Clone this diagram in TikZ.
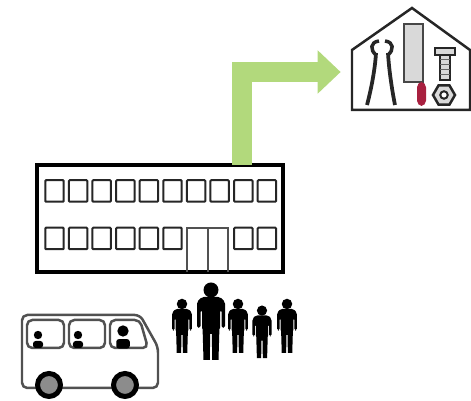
\documentclass[tikz,border=0pt]{standalone}
\usetikzlibrary{arrows.meta,positioning,calc,shapes.geometric}
\definecolor{arrowgreen}{HTML}{B2D97C}
\definecolor{handlered}{HTML}{A8203F}
\definecolor{bladegray}{HTML}{D9D9D9}
\definecolor{wheelgray}{HTML}{8C8C8C}
\definecolor{inkdark}{HTML}{262626}

\begin{document}
\begin{tikzpicture}[
    x=0.02cm, y=-0.02cm,
    building/.style={
        rectangle, draw=black, line width=0.08cm, fill=white, inner sep=0pt,
        minimum width=4.92cm, minimum height=2.14cm
    },
    % Windows of the building
    window/.style={
        rectangle, rounded corners=0.5pt, draw=inkdark, line width=0.04cm, fill=white,
        inner sep=0pt, minimum width=0.37cm, minimum height=0.43cm
    },
    doorline/.style={draw=inkdark!80, line width=0.04cm},
    flowarrow/.style={
        -{Triangle[length=0.46cm,width=0.84cm]}, line width=0.4cm, arrowgreen,
        shorten >=0.2cm
    },
    houseline/.style={draw=inkdark, line width=0.05cm, line join=miter},
    busline/.style={draw=inkdark!80, line width=0.05cm, rounded corners=3pt},
    wheel/.style={
        circle, draw=black, line width=0.1cm, fill=wheelgray,
        inner sep=0pt, minimum size=0.46cm
    },
    passenger/.pic={
        \fill[black] (0,0) circle (4.2);
        \fill[black, rounded corners=1.5pt] (-5,13) -- (-5,6) -- (5,6) -- (5,13) -- cycle;
    },
    walker/.pic={
        % head
        \fill[black] (0,-30) circle (7.5);
        % torso with arms
        \fill[black, rounded corners=1pt] (-14,8) -- (-14,-18) -- (-9,-23) -- (9,-23)
            -- (14,-18) -- (14,8) -- (10.5,8) -- (10.5,-10) -- (9,-10) -- (9,10)
            -- (-9,10) -- (-9,-10) -- (-10.5,-10) -- (-10.5,8) -- cycle;
        % legs
        \fill[black] (-8.5,6) -- (8.5,6) -- (7.5,40) -- (1.2,40) -- (0.8,14) -- (-0.8,14)
            -- (-1.2,40) -- (-7.5,40) -- cycle;
    }
]
\useasboundingbox (0,0) rectangle (471,401);

% === House with the tools ===
\node[inner sep=0pt, minimum size=0pt] (house) at (351,72) {};
\draw[houseline] (352,50) -- (412,8) -- (470,50) -- (470,110) -- (352,110) -- cycle;

% pliers
\draw[inkdark, line width=0.07cm] (379,41) .. controls (370,42) and (370,50) .. (376,55);
\draw[inkdark, line width=0.07cm] (385,41) .. controls (394,42) and (394,50) .. (388,55);
\draw[inkdark, line width=0.075cm] (376,53) .. controls (375,70) and (371,90) .. (367,105);
\draw[inkdark, line width=0.075cm] (388,53) .. controls (389,70) and (392,90) .. (395,105);

% cleaver
\draw[fill=bladegray, draw=inkdark!85, line width=0.05cm] (404,24) rectangle (423,82);
\fill[handlered, rounded corners=3pt] (417,82) rectangle (426,106);

% bolt
\draw[fill=bladegray, draw=inkdark, line width=0.04cm] (435,48) rectangle (455,55);
\draw[fill=bladegray, draw=inkdark, line width=0.04cm] (440,55) rectangle (450,80);
\foreach \yy in {60,65,70,75}
    \draw[inkdark!70, line width=0.02cm] (440,\yy) -- (450,\yy);

% nut
\node[regular polygon, regular polygon sides=6, draw=inkdark, fill=bladegray,
    line width=0.05cm, minimum size=0.44cm, inner sep=0pt] (nut) at (444,95) {};
\node[circle, draw=inkdark, fill=white, line width=0.04cm, minimum size=0.15cm,
    inner sep=0pt] (nuthole) at (nut.center) {};

% === Building ===
\node[building] (school) at (160,218.5) {};
\coordinate (arrowstart) at (242,165);
\draw[flowarrow] (arrowstart) |- (house.west);

% top row of windows
\foreach \col in {0,...,9}
    \node[window] (top\col) at ({54.5+23.6*\col},191) {};
% bottom row, the door takes the place of two windows
\foreach \col in {0,...,5,8,9}
    \node[window] (low\col) at ({54.5+23.6*\col},238.5) {};

% door
\coordinate (doortop) at (187,228);
\draw[doorline] (187,272) -- (doortop) -- (228,228) -- (228,272);
\draw[doorline] (208,228) -- (208,272);

% === Bus ===
\draw[busline, fill=white] (22,388) -- (22,315) -- (140,315) -- (158,347) -- (158,388) -- cycle;
\draw[busline] (27,320) rectangle (64,348);
\draw[busline] (69,320) rectangle (105,348);
\draw[busline] (110,320) -- (140,320) -- (148,348) -- (110,348) -- cycle;
\pic at (38,335) {passenger};
\pic at (78,335) {passenger};
\pic[scale=1.35] at (123,331) {passenger};
\node[wheel] (wheelA) at (49,385) {};
\node[wheel] (wheelB) at (125,385) {};

% === People ===
\pic at (211,320) {walker};
\pic[scale=0.7] at (182,325) {walker};
\pic[scale=0.7] at (238,325) {walker};
\pic[scale=0.68] at (262,331) {walker};
\pic[scale=0.7] at (287,325) {walker};

\end{tikzpicture}
\end{document}
